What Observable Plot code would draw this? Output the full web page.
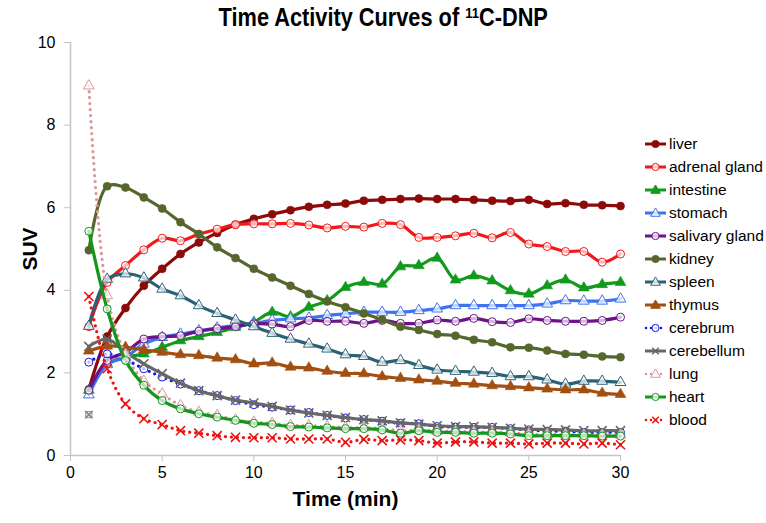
<!DOCTYPE html>
<html>
<head>
<meta charset="utf-8">
<script src="https://cdn.jsdelivr.net/npm/d3@7"></script>
<script src="https://cdn.jsdelivr.net/npm/@observablehq/plot@0.6"></script>
<style>
  html, body { margin: 0; padding: 0; background: #fff; }
  #wrap { position: relative; width: 766px; height: 523px; font-family: "Liberation Sans", Arial, sans-serif; }
  #title { position: absolute; left: 0; width: 766px; top: 3px; text-align: center; }
  #title span { display: inline-block; transform: scaleX(0.87); transform-origin: center; font-family: "Liberation Sans", Arial, sans-serif; font-weight: bold; font-size: 25px; color: #000; }
  #title sup { font-size: 60%; vertical-align: 0.55em; line-height: 0; }
  #legend { position: absolute; left: 644px; top: 132px; }
  .item { height: 23.08px; display: flex; align-items: center; font-size: 15.5px; color: #000; white-space: nowrap; }
  .item svg { margin-right: 1px; }
  svg g[aria-label="x-axis label"] text, svg g[aria-label="y-axis label"] text { font-weight: bold; font-size: 21px; }
</style>
</head>
<body>
<div id="wrap">
  <div id="chart"></div>
  <div id="title"><span>Time Activity Curves of <sup>11</sup>C-DNP</span></div>
  <div id="legend"></div>
</div>
<script>
// ---- data ----
const time = [1,2,3,4,5,6,7,8,9,10,11,12,13,14,15,16,17,18,19,20,21,22,23,24,25,26,27,28,29,30];
const xTicks = [0,5,10,15,20,25,30];
const yTicks = [0,2,4,6,8,10];
const seriesNames = ["liver","adrenal gland","intestine","stomach","salivary gland","kidney","spleen","thymus","cerebrum","cerebellum","lung","heart","blood"];

const liver = [1.60,2.88,3.57,4.11,4.52,4.88,5.16,5.39,5.59,5.73,5.84,5.94,6.02,6.07,6.10,6.17,6.19,6.21,6.22,6.21,6.21,6.19,6.17,6.16,6.19,6.09,6.11,6.07,6.06,6.04];
const adrenalGland = [3.12,4.19,4.60,4.98,5.26,5.20,5.36,5.48,5.59,5.61,5.61,5.62,5.58,5.51,5.55,5.53,5.62,5.59,5.28,5.28,5.32,5.38,5.27,5.40,5.12,5.06,4.94,4.94,4.68,4.88];
const intestine = [1.58,2.22,2.38,2.46,2.62,2.78,2.88,2.98,3.10,3.23,3.47,3.36,3.59,3.75,4.07,4.19,4.15,4.57,4.60,4.78,4.25,4.35,4.23,3.99,3.91,4.11,4.25,4.06,4.14,4.19];
const stomach = [1.47,2.20,2.38,2.70,2.86,2.94,3.02,3.09,3.15,3.20,3.27,3.31,3.33,3.39,3.43,3.47,3.47,3.47,3.51,3.55,3.63,3.63,3.63,3.63,3.63,3.67,3.75,3.74,3.74,3.79];
const salivaryGland = [1.58,2.30,2.50,2.82,2.88,2.90,3.01,3.07,3.12,3.19,3.18,3.12,3.27,3.25,3.25,3.20,3.27,3.20,3.20,3.28,3.25,3.32,3.24,3.22,3.31,3.27,3.25,3.25,3.27,3.35];
const kidney = [4.97,6.52,6.49,6.25,5.98,5.65,5.36,5.04,4.78,4.52,4.31,4.11,3.91,3.73,3.59,3.44,3.29,3.12,3.04,2.94,2.90,2.80,2.74,2.62,2.61,2.54,2.46,2.44,2.40,2.38];
const spleen = [3.13,4.27,4.40,4.30,4.03,3.87,3.63,3.44,3.28,3.12,2.96,2.82,2.70,2.58,2.44,2.40,2.26,2.30,2.18,2.07,2.04,2.02,1.99,1.91,1.91,1.83,1.73,1.80,1.80,1.77];
const thymus = [2.53,2.65,2.62,2.56,2.50,2.44,2.42,2.36,2.32,2.22,2.24,2.14,2.12,2.04,1.99,1.98,1.91,1.87,1.83,1.80,1.75,1.73,1.69,1.67,1.64,1.61,1.59,1.59,1.51,1.48];
const cerebrum = [2.26,2.46,2.32,2.10,1.90,1.73,1.57,1.45,1.33,1.23,1.17,1.10,1.04,0.97,0.91,0.87,0.83,0.78,0.77,0.70,0.69,0.68,0.68,0.65,0.62,0.59,0.59,0.56,0.56,0.56];
const cerebellum = [2.64,2.82,2.50,2.22,1.98,1.75,1.57,1.45,1.34,1.27,1.19,1.10,1.03,0.97,0.92,0.87,0.84,0.79,0.76,0.72,0.70,0.70,0.68,0.66,0.64,0.63,0.62,0.60,0.60,0.60];
const lung = [8.95,3.87,2.45,1.80,1.49,1.21,1.05,0.97,0.86,0.81,0.78,0.73,0.72,0.70,0.68,0.67,0.65,0.60,0.62,0.59,0.58,0.57,0.56,0.55,0.52,0.51,0.51,0.50,0.50,0.50];
const heart = [5.43,3.55,2.30,1.70,1.33,1.13,1.01,0.93,0.85,0.78,0.75,0.70,0.69,0.67,0.65,0.65,0.62,0.54,0.60,0.56,0.56,0.54,0.54,0.52,0.48,0.48,0.48,0.48,0.47,0.47];
const blood = [3.85,2.10,1.25,0.89,0.75,0.60,0.54,0.48,0.44,0.43,0.43,0.40,0.40,0.40,0.32,0.39,0.36,0.38,0.36,0.30,0.33,0.33,0.30,0.30,0.28,0.30,0.30,0.28,0.30,0.26];
// isolated grey marker at t = 1
const strayTime = [1];
const strayValue = [0.99];

const seriesValues = [liver, adrenalGland, intestine, stomach, salivaryGland, kidney, spleen, thymus, cerebrum, cerebellum, lung, heart, blood];

// ---- styles ----
const styles = {
  "liver":          {color:"#8B0A0A", symbol:"circle",   filled:true,  dotted:false},
  "adrenal gland":  {color:"#F21818", symbol:"circle",   filled:false, dotted:false},
  "intestine":      {color:"#119A1B", symbol:"triangle", filled:true,  dotted:false},
  "stomach":        {color:"#3D73F0", symbol:"triangle", filled:false, dotted:false},
  "salivary gland": {color:"#6B1387", symbol:"circle",   filled:false, dotted:false},
  "kidney":         {color:"#56672E", symbol:"circle",   filled:true,  dotted:false},
  "spleen":         {color:"#2B6175", symbol:"triangle", filled:false, dotted:false},
  "thymus":         {color:"#A24F12", symbol:"triangle", filled:true,  dotted:false},
  "cerebrum":       {color:"#1414E6", symbol:"circle",   filled:false, dotted:true},
  "cerebellum":     {color:"#676767", symbol:"times",    filled:false, dotted:false},
  "lung":           {color:"#D9999B", symbol:"triangle", filled:false, dotted:true},
  "heart":          {color:"#13961B", symbol:"circle",   filled:false, dotted:false},
  "blood":          {color:"#EE1111", symbol:"times",    filled:false, dotted:true}
};

function markerOpts(st) {
  if (st.symbol === "times") return {symbol:"times", r:4.2, fill:"none", stroke:st.color, strokeWidth:1.6};
  if (st.symbol === "triangle") return {symbol:"triangle", r:4, fill: st.filled ? st.color : "#fff", fillOpacity: st.filled ? 1 : 0.7, stroke:st.color, strokeWidth: st.filled ? 0.6 : 1};
  return {symbol:"circle", r: 4, fill: st.filled ? st.color : "#fff", fillOpacity: st.filled ? 1 : 0.7, stroke:st.color, strokeWidth: st.filled ? 0.6 : 1};
}
function lineOpts(st) {
  return st.dotted
    ? {stroke:st.color, strokeWidth:3.3, strokeDasharray:"0 6", strokeLinecap:"round", curve:"catmull-rom"}
    : {stroke:st.color, strokeWidth:3.2, strokeLinecap:"round", strokeLinejoin:"round", curve:"catmull-rom"};
}

const marks = [
  Plot.ruleY([0], {stroke:"#c4c4c4", strokeWidth:1.5}),
  Plot.ruleX([0], {stroke:"#c4c4c4", strokeWidth:1.5}),
  Plot.axisX({ticks:xTicks, tickSize:6, tickPadding:5, stroke:"#c4c4c4", fill:"#000", label:"Time (min)", labelAnchor:"center", labelArrow:"none", labelOffset:50}),
  Plot.axisY({ticks:yTicks, tickSize:6, tickPadding:9, stroke:"#c4c4c4", fill:"#000", label:"SUV", labelAnchor:"center", labelArrow:"none", labelOffset:48})
];

// stray point drawn first (under everything)
const strayRows = strayTime.map((t,i) => ({t, v: strayValue[i]}));
marks.push(Plot.dot(strayRows, {x:"t", y:"v", symbol:"square", r:3.5, fill:"#ddd", stroke:"#999", strokeWidth:1}));
marks.push(Plot.dot(strayRows, {x:"t", y:"v", symbol:"times", r:3.5, fill:"none", stroke:"#777", strokeWidth:1.3}));

seriesNames.forEach((name, k) => {
  const st = styles[name];
  const rows = time.map((t,i) => ({t, v: seriesValues[k][i]}));
  marks.push(Plot.line(rows, {x:"t", y:"v", ...lineOpts(st)}));
  marks.push(Plot.dot(rows, {x:"t", y:"v", ...markerOpts(st)}));
});

const chart = Plot.plot({
  width: 766, height: 523,
  marginLeft: 70, marginRight: 146, marginTop: 42, marginBottom: 68,
  x: {domain:[0,30]},
  y: {domain:[0,10]},
  style: {fontSize:"16px", fontFamily:"'Liberation Sans', Arial, sans-serif", background:"#fff", color:"#000"},
  marks
});
document.getElementById("chart").appendChild(chart);

// ---- legend ----
const legend = document.getElementById("legend");
seriesNames.forEach(name => {
  const st = styles[name];
  const div = document.createElement("div");
  div.className = "item";
  const sw = d3.create("svg").attr("width", 24).attr("height", 14);
  const line = sw.append("line").attr("x1", 1).attr("x2", 22).attr("y1", 7).attr("y2", 7)
    .attr("stroke", st.color).attr("stroke-width", st.dotted ? 2.6 : 3);
  if (st.dotted) line.attr("stroke-dasharray", "0 5").attr("stroke-linecap", "round").attr("x1", 2);
  const cx = 11.5, cy = 7;
  if (st.symbol === "circle") {
    sw.append("circle").attr("cx", cx).attr("cy", cy).attr("r", 3.6)
      .attr("fill", st.filled ? st.color : "#fff").attr("fill-opacity", st.filled ? 1 : 0.75)
      .attr("stroke", st.color).attr("stroke-width", 1);
  } else if (st.symbol === "triangle") {
    sw.append("path").attr("d", d3.symbol(d3.symbolTriangle, 40)()).attr("transform", `translate(${cx},${cy + 0.5})`)
      .attr("fill", st.filled ? st.color : "#fff").attr("fill-opacity", st.filled ? 1 : 0.75)
      .attr("stroke", st.color).attr("stroke-width", 1);
  } else {
    sw.append("path").attr("d", d3.symbol(d3.symbolTimes, 30)()).attr("transform", `translate(${cx},${cy})`)
      .attr("fill", "none").attr("stroke", st.color).attr("stroke-width", 1.5);
  }
  div.appendChild(sw.node());
  const span = document.createElement("span");
  span.textContent = name;
  div.appendChild(span);
  legend.appendChild(div);
});
</script>
</body>
</html>
